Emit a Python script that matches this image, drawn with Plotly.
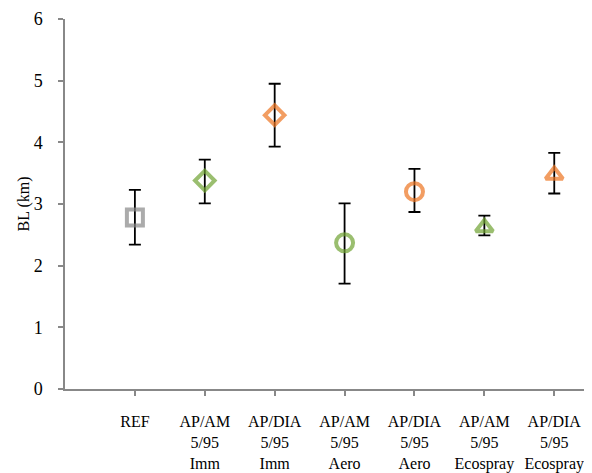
import plotly.graph_objects as go

categories = ["REF", "AP/AM<br>5/95<br>Imm", "AP/DIA<br>5/95<br>Imm", "AP/AM<br>5/95<br>Aero",
              "AP/DIA<br>5/95<br>Aero", "AP/AM<br>5/95<br>Ecospray", "AP/DIA<br>5/95<br>Ecospray"]
bl_mean = [2.78, 3.38, 4.44, 2.37, 3.20, 2.62, 3.47]
err_upper = [3.23, 3.72, 4.95, 3.01, 3.57, 2.81, 3.83]
err_lower = [2.34, 3.01, 3.93, 1.71, 2.87, 2.49, 3.17]
y_ticks = [0, 1, 2, 3, 4, 5, 6]

GRAY = "#888888"
GREEN = "#6fa232"
ORANGE = "#ec7420"
symbols = ["square-open", "diamond-open", "diamond-open", "circle-open",
           "circle-open", "triangle-up-open", "triangle-up-open"]
colors = [GRAY, GREEN, ORANGE, GREEN, ORANGE, GREEN, ORANGE]
sizes = [16, 15, 15, 17, 17, 15, 15]

xpos = list(range(1, len(categories) + 1))
plus = [u - m for u, m in zip(err_upper, bl_mean)]
minus = [m - l for m, l in zip(bl_mean, err_lower)]

fig = go.Figure()
fig.add_trace(go.Scatter(
    x=xpos, y=bl_mean, mode="markers",
    marker=dict(symbol=symbols, color=colors, size=sizes, line=dict(width=4, color=colors)),
    error_y=dict(type="data", symmetric=False, array=plus, arrayminus=minus,
                 color="black", thickness=1.8, width=6),
    showlegend=False,
))

font_family = "Liberation Serif"
fig.update_layout(
    width=584, height=465,
    margin=dict(l=57, r=0, t=11, b=84),
    paper_bgcolor="white", plot_bgcolor="white",
    font=dict(family=font_family, color="black", size=16),
)
fig.update_xaxes(
    range=[0, 7.54], tickmode="array", tickvals=xpos, ticktext=categories,
    showline=True, linecolor="#888888", linewidth=1.5,
    ticks="outside", ticklen=5, tickcolor="#888888", tickwidth=1.5,
    showgrid=False, zeroline=False, tickfont=dict(size=16, family=font_family, color="black"),
    ticklabelstandoff=12,
)
fig.update_yaxes(
    range=[0, 6], tickmode="array", tickvals=y_ticks,
    showline=True, linecolor="#888888", linewidth=1.5,
    ticks="outside", ticklen=5, tickcolor="#888888", tickwidth=1.5,
    showgrid=False, zeroline=False, tickfont=dict(size=18, family=font_family, color="black"),
    ticklabelstandoff=12,
    title=dict(text="BL (km)", font=dict(size=16, family=font_family, color="black"), standoff=0),
)

fig.write_html("out.html")
